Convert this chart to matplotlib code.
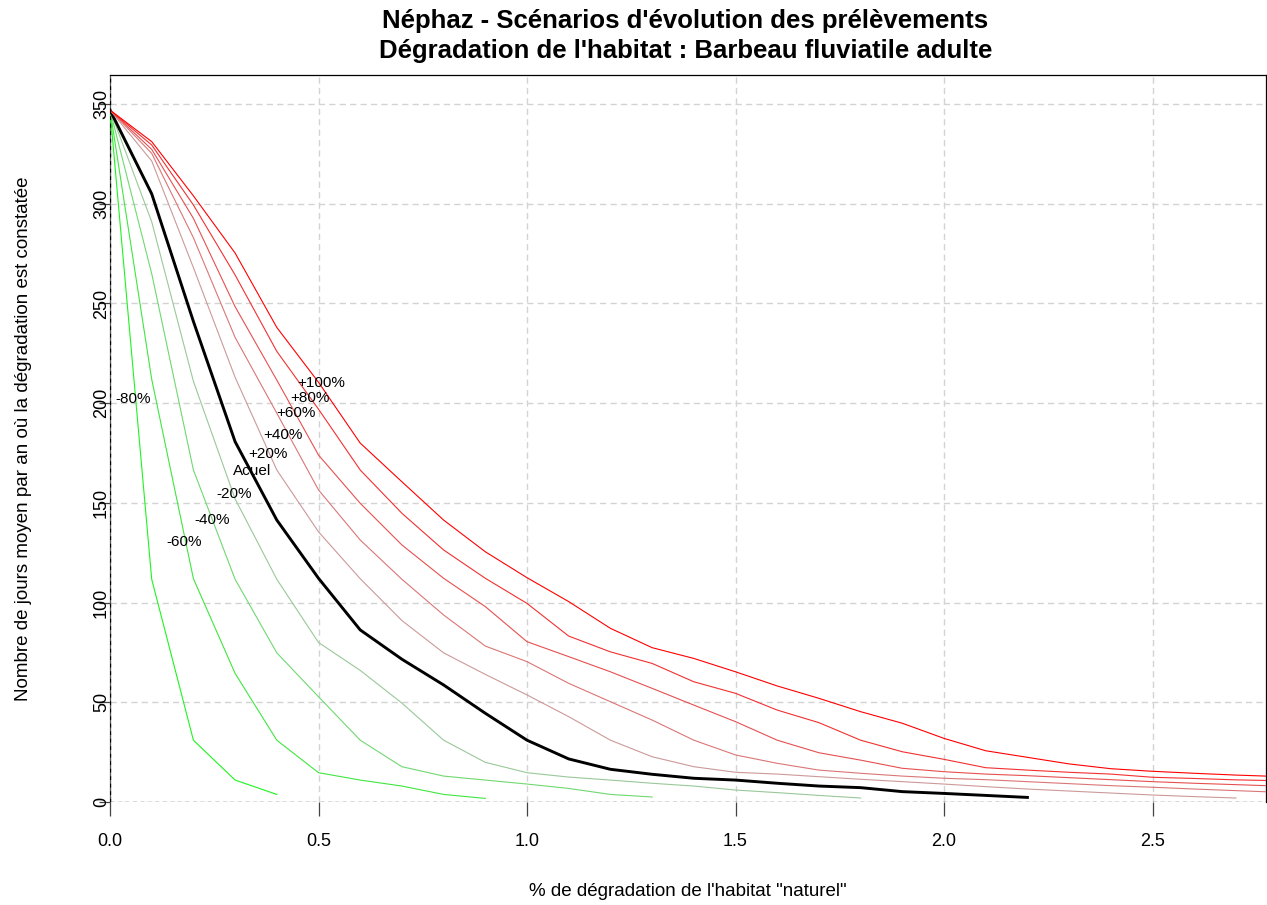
import matplotlib
matplotlib.use("Agg")
import matplotlib.pyplot as plt
import numpy as np

plt.rcParams['font.family'] = ['Liberation Sans', 'DejaVu Sans']

# ---- data (x = % de dégradation, step 0.1) ----
step = 0.1
s_m80 = [347, 111.7, 31, 11, 3.8]
s_m60 = [347, 212, 112, 64.5, 31, 14.7, 11, 8, 3.8, 1.8]
s_m40 = [347, 265, 166.5, 111.7, 74.8, 52.8, 31, 17.7, 13, 11, 9, 6.8, 3.8, 2.5]
s_m20 = [347, 291, 211, 152, 111.7, 80, 66, 49.6, 31, 19.9, 14.7, 12.5, 11, 9.4,
         8, 6, 4.7, 3.3, 2]
s_act = [347, 305, 241, 180.7, 141.4, 112.2, 86.3, 71.6, 58.7, 44.5, 31, 21.6,
         16.4, 13.9, 11.9, 11, 9.4, 8, 7.2, 5.2, 4.3, 3.3, 2.3]
s_p20 = [347, 321.5, 268, 213, 166.5, 135.5, 112, 91, 74.8, 64, 53.7, 42.8, 31,
         22.7, 17.7, 14.9, 14, 12.7, 11.4, 10.2, 9, 7.7, 6.5, 5.5, 4.5, 3.5, 2.7, 2]
s_p40 = [347, 325.3, 283, 233, 195, 156.5, 131.4, 111.7, 93.8, 78.2, 70.4, 59.5,
         50.3, 41.1, 31, 23.6, 19.4, 16, 14.4, 13, 11.9, 11.2, 10.2, 9.2, 8.2,
         7.4, 6.5, 5.7, 4.9]
s_p60 = [347, 327.3, 292.7, 248.4, 211.6, 174, 149.8, 128.9, 112.2, 98, 80.4,
         72.9, 65.3, 57, 48.6, 40.3, 31, 24.7, 21, 16.9, 15.2, 14, 13.2, 12.2,
         11.2, 10.2, 9.4, 8.7, 8]
s_p80 = [347, 329.5, 299.4, 264.3, 226, 197, 166.5, 144.8, 126.4, 112.2, 99.6,
         83.2, 75.3, 69.5, 60.3, 54.5, 46.1, 39.8, 31, 25.2, 21.4, 17.2, 16, 14.9,
         14, 12.4, 11.8, 11.1, 10.7]
s_p100 = [347, 331.2, 304, 275.3, 238, 210.5, 180, 160.6, 141.4, 125.5, 112.5,
          100.5, 87.1, 77.4, 72, 65.3, 58.2, 52, 45.3, 39.5, 31.9, 25.7, 22.4,
          19.1, 16.7, 15.4, 14.4, 13.5, 12.8]

scenario_names = ["-80%", "-60%", "-40%", "-20%", "Acuel",
                  "+20%", "+40%", "+60%", "+80%", "+100%"]
series = [s_m80, s_m60, s_m40, s_m20, s_act, s_p20, s_p40, s_p60, s_p80, s_p100]
colors = ["#1EF51E", "#40E640", "#70D870", "#99C899", "#000000",
          "#CC9999", "#DA7676", "#E65050", "#F23030", "#FF0000"]
widths = [0.8, 0.8, 0.8, 0.8, 2.1, 0.8, 0.8, 0.8, 0.8, 0.8]

# label anchor positions (data coords)
label_x = [0.055, 0.177, 0.245, 0.297, 0.340, 0.379, 0.415, 0.447, 0.479, 0.506]
label_y = [202, 130.2, 141.4, 154.5, 166, 174.5, 184, 195, 202.5, 210]

xticks = [0.0, 0.5, 1.0, 1.5, 2.0, 2.5]
yticks = [0, 50, 100, 150, 200, 250, 300, 350]

W, H = 1267, 905
fig = plt.figure(figsize=(W / 100, H / 100), dpi=100)
left, right, top, bottom = 110, 1266, 75, 802
ax = fig.add_axes([left / W, (H - bottom) / H, (right - left) / W, (bottom - top) / H])

xmax = (right - left) / 417.0
ymax = (bottom - top) / 1.994
ax.set_xlim(0, xmax)
ax.set_ylim(0, ymax)

# grid
for xv in xticks:
    ax.axvline(xv, color="#D3D3D3", lw=1.0, dashes=(4.5, 3), zorder=0)
for yv in yticks:
    ax.axhline(yv, color="#D3D3D3", lw=1.0, dashes=(4.5, 3), zorder=0)

for s, c, w in zip(series, colors, widths):
    xs = np.arange(len(s)) * step
    ax.plot(xs, s, color=c, lw=w, zorder=3, solid_joinstyle='miter')

for name, lx, ly in zip(scenario_names, label_x, label_y):
    ax.text(lx, ly, name, ha="center", va="center", fontsize=11, zorder=5)

ax.axhline(0, color="black", lw=0.9, dashes=(3, 3), zorder=4)
ax.axvline(0, color="black", lw=0.9, dashes=(3, 3), zorder=4)

for sp in ax.spines.values():
    sp.set_linewidth(0.9)
    sp.set_color("black")
ax.spines['left'].set_color("#555555")
ax.spines['bottom'].set_visible(False)

ax.set_xticks(xticks)
ax.set_xticklabels([f"{v:.1f}" for v in xticks])
ax.set_yticks(yticks)
ax.set_yticklabels([str(v) for v in yticks], rotation=90, va="center")
ax.tick_params(axis="x", length=10, width=0.9, color="#444444", labelsize=13, pad=12)
ax.tick_params(axis="y", length=8, width=0.9, color="#444444", labelsize=13, pad=-8)

ax.set_xlabel("% de dégradation de l'habitat \"naturel\"", fontsize=13.5)
ax.set_ylabel("Nombre de jours moyen par an où la dégradation est constatée",
              fontsize=13.5)
ax.xaxis.set_label_coords(0.5, (bottom - 891) / (bottom - top))
ax.xaxis.label.set_va("center")
ax.yaxis.set_label_coords((23 - left) / (right - left), 0.5)
ax.yaxis.label.set_va("center")

fig.text(0.5 + 52 / W, 1 - 21 / H, "Néphaz - Scénarios d'évolution des prélèvements",
         ha="center", va="center", fontsize=18.5, fontweight="bold")
fig.text(0.5 + 52 / W, 1 - 51 / H, "Dégradation de l'habitat : Barbeau fluviatile adulte",
         ha="center", va="center", fontsize=18.5, fontweight="bold")

fig.savefig("out.png", dpi=100)
